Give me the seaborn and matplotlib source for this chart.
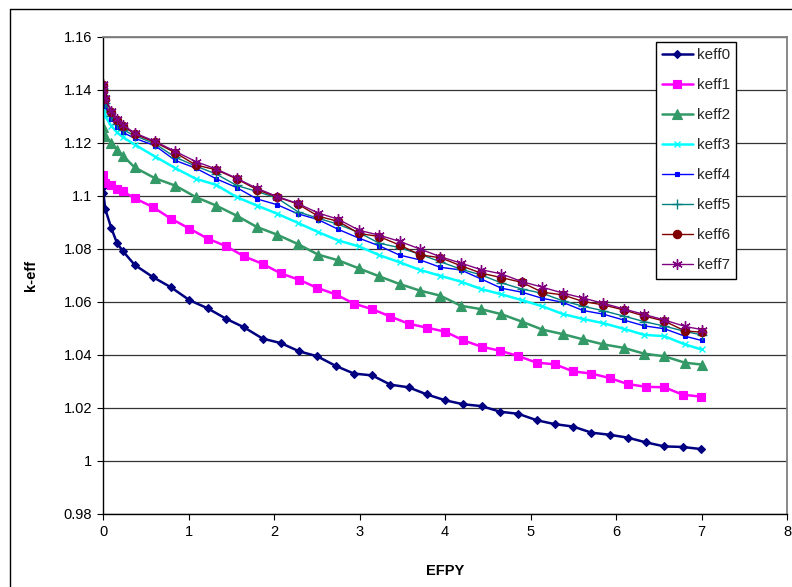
import matplotlib
matplotlib.use("Agg")
import matplotlib.pyplot as plt
from matplotlib.lines import Line2D
from matplotlib.ticker import FuncFormatter, MultipleLocator
import pandas as pd
import seaborn as sns

# Burnup steps (EFPY) for the first two cases
efpy_a = [0, 0.005, 0.027, 0.096, 0.164, 0.233, 0.370, 0.584, 0.797, 1.011,
          1.225, 1.438, 1.652, 1.866, 2.079, 2.293, 2.507, 2.721, 2.934, 3.148,
          3.362, 3.575, 3.789, 4.003, 4.216, 4.430, 4.644, 4.858, 5.071, 5.285,
          5.499, 5.712, 5.926, 6.140, 6.353, 6.567, 6.781, 6.995]

# Burnup steps (EFPY) for the remaining cases
efpy_b = [0, 0.005, 0.027, 0.096, 0.164, 0.233, 0.370, 0.608, 0.847, 1.085,
          1.323, 1.562, 1.800, 2.038, 2.277, 2.515, 2.753, 2.992, 3.230, 3.468,
          3.707, 3.945, 4.184, 4.422, 4.660, 4.899, 5.137, 5.375, 5.614, 5.852,
          6.090, 6.329, 6.567, 6.805, 7.0]

keff0 = [1.1035, 1.1010, 1.0950, 1.0880, 1.0822, 1.0792, 1.0740, 1.0694, 1.0655, 1.0607,
         1.0576, 1.0537, 1.0504, 1.0462, 1.0445, 1.0414, 1.0395, 1.0359, 1.0330, 1.0323,
         1.0288, 1.0278, 1.0251, 1.0229, 1.0214, 1.0207, 1.0186, 1.0178, 1.0154, 1.0139,
         1.0130, 1.0107, 1.0099, 1.0088, 1.0070, 1.0055, 1.0053, 1.0045]

keff1 = [1.1080, 1.1056, 1.1048, 1.1040, 1.1026, 1.1017, 1.0992, 1.0958, 1.0914, 1.0877,
         1.0839, 1.0811, 1.0772, 1.0744, 1.0708, 1.0684, 1.0653, 1.0629, 1.0594, 1.0573,
         1.0545, 1.0518, 1.0503, 1.0488, 1.0455, 1.0431, 1.0416, 1.0396, 1.0371, 1.0365,
         1.0338, 1.0330, 1.0313, 1.0290, 1.0280, 1.0278, 1.0250, 1.0243]

keff2 = [1.1335, 1.1262, 1.1225, 1.1200, 1.1175, 1.1152, 1.1108, 1.1067, 1.1039, 1.0996,
         1.0964, 1.0926, 1.0883, 1.0854, 1.0819, 1.0779, 1.0757, 1.0727, 1.0697, 1.0668,
         1.0643, 1.0624, 1.0586, 1.0573, 1.0554, 1.0526, 1.0496, 1.0479, 1.0459, 1.0440,
         1.0427, 1.0405, 1.0395, 1.0371, 1.0364]

keff3 = [1.1380, 1.1355, 1.1300, 1.1265, 1.1240, 1.1222, 1.1194, 1.1149, 1.1105, 1.1065,
         1.1042, 1.0996, 1.0964, 1.0933, 1.0899, 1.0864, 1.0832, 1.0810, 1.0777, 1.0750,
         1.0721, 1.0699, 1.0677, 1.0649, 1.0629, 1.0607, 1.0584, 1.0555, 1.0536, 1.0520,
         1.0499, 1.0476, 1.0471, 1.0440, 1.0421]

keff4 = [1.1395, 1.1372, 1.1340, 1.1292, 1.1262, 1.1240, 1.1218, 1.1190, 1.1134, 1.1105,
         1.1065, 1.1032, 1.0989, 1.0967, 1.0933, 1.0911, 1.0874, 1.0841, 1.0812, 1.0777,
         1.0759, 1.0731, 1.0721, 1.0687, 1.0652, 1.0637, 1.0614, 1.0599, 1.0568, 1.0554,
         1.0532, 1.0510, 1.0499, 1.0471, 1.0455]

keff5 = [1.1405, 1.1382, 1.1352, 1.1302, 1.1272, 1.1250, 1.1228, 1.1197, 1.1146, 1.1113,
         1.1083, 1.1040, 1.1017, 1.0992, 1.0941, 1.0916, 1.0893, 1.0862, 1.0822, 1.0805,
         1.0780, 1.0752, 1.0724, 1.0702, 1.0672, 1.0649, 1.0633, 1.0605, 1.0584, 1.0567,
         1.0547, 1.0526, 1.0509, 1.0489, 1.0476]

keff6 = [1.1418, 1.1395, 1.1366, 1.1318, 1.1288, 1.1265, 1.1234, 1.1203, 1.1163, 1.1117,
         1.1099, 1.1065, 1.1024, 1.0996, 1.0970, 1.0924, 1.0904, 1.0859, 1.0847, 1.0815,
         1.0778, 1.0767, 1.0737, 1.0709, 1.0692, 1.0674, 1.0637, 1.0627, 1.0602, 1.0589,
         1.0570, 1.0547, 1.0528, 1.0491, 1.0486]

keff7 = [1.1422, 1.1400, 1.1370, 1.1322, 1.1292, 1.1268, 1.1238, 1.1206, 1.1168, 1.1130,
         1.1102, 1.1067, 1.1029, 1.0998, 1.0972, 1.0936, 1.0912, 1.0871, 1.0852, 1.0829,
         1.0800, 1.0771, 1.0747, 1.0722, 1.0706, 1.0677, 1.0656, 1.0634, 1.0615, 1.0595,
         1.0574, 1.0553, 1.0532, 1.0508, 1.0496]

y_ticks = [0.98, 1.00, 1.02, 1.04, 1.06, 1.08, 1.10, 1.12, 1.14, 1.16]

sns.set_theme(style="white")
plt.rcParams["font.family"] = ["Liberation Sans", "DejaVu Sans"]

fig = plt.figure(figsize=(7.92, 5.87), dpi=100)
W, H = 792, 587
ax = fig.add_axes([103 / W, 1 - 514 / H, (787 - 103) / W, (514 - 37) / H])

series = [
    ("keff0", efpy_a, keff0, dict(color="#000080", marker="D", markersize=4.5, linewidth=1.8, markeredgewidth=0.8)),
    ("keff1", efpy_a, keff1, dict(color="#FF00FF", marker="s", markersize=5.5, linewidth=1.8, markeredgewidth=0.8)),
    ("keff2", efpy_b, keff2, dict(color="#339966", marker="^", markersize=6.5, linewidth=1.8, markeredgewidth=0.8)),
    ("keff3", efpy_b, keff3, dict(color="#00FFFF", marker="x", markersize=5, linewidth=1.8, markeredgewidth=1.0)),
    ("keff4", efpy_b, keff4, dict(color="#0000FF", marker="s", markersize=2.5, linewidth=1.0, markeredgewidth=0.8)),
    ("keff5", efpy_b, keff5, dict(color="#008080", marker="+", markersize=7, linewidth=1.0, markeredgewidth=1.0)),
    ("keff6", efpy_b, keff6, dict(color="#800000", marker="o", markersize=6, linewidth=1.0, markeredgewidth=0.8)),
    ("keff7", efpy_b, keff7, dict(color="#800080", marker=(6, 2, 0), markersize=7.5, linewidth=1.0, markeredgewidth=1.0)),
]

for name, x, y, st in series:
    df = pd.DataFrame({"EFPY": x, "k-eff": y})
    sns.lineplot(data=df, x="EFPY", y="k-eff", ax=ax, label=name,
                 estimator=None, sort=False,
                 markeredgecolor=st["color"], markerfacecolor=st["color"], **st)

ax.set_xlim(0, 8)
ax.set_ylim(0.98, 1.16)
ax.xaxis.set_major_locator(MultipleLocator(1))
ax.set_yticks(y_ticks)
ax.yaxis.set_major_formatter(FuncFormatter(lambda v, p: f"{round(v, 2):g}"))

ax.yaxis.grid(True, color="#333333", linewidth=0.9)
ax.xaxis.grid(False)
ax.set_axisbelow(True)

for side in ("left", "bottom"):
    ax.spines[side].set_color("black")
    ax.spines[side].set_linewidth(1.0)
for side in ("top", "right"):
    ax.spines[side].set_color("#808080")
    ax.spines[side].set_linewidth(1.3)

ax.tick_params(axis="both", which="major", bottom=True, left=True, direction="out",
               length=4, width=0.8, color="black", labelsize=10.5, labelcolor="black", pad=4)

ax.set_xlabel("EFPY", fontsize=10.5, fontweight="bold", color="black")
ax.set_ylabel("k-eff", fontsize=10.5, fontweight="bold", color="black")
ax.xaxis.set_label_coords(0.5, -0.104)
ax.yaxis.set_label_coords(-0.095, 0.5)

leg = ax.legend(loc="upper left", bbox_to_anchor=(656 / W, 1 - 42 / H),
                bbox_transform=fig.transFigure, frameon=True, fancybox=False,
                shadow=False, framealpha=1, edgecolor="black", fontsize=11,
                handlelength=2.0, handletextpad=0.3, labelspacing=1.05,
                borderpad=0.4, borderaxespad=0)
leg.get_frame().set_linewidth(1.0)

# chart-area frame
fig.add_artist(Line2D([9.5 / W, 9.5 / W], [0, 1 - 9 / H], color="black", linewidth=1.0,
                      transform=fig.transFigure))
fig.add_artist(Line2D([9.5 / W, 1], [1 - 9 / H, 1 - 9 / H], color="black", linewidth=1.0,
                      transform=fig.transFigure))

fig.savefig("out.png", dpi=100)
